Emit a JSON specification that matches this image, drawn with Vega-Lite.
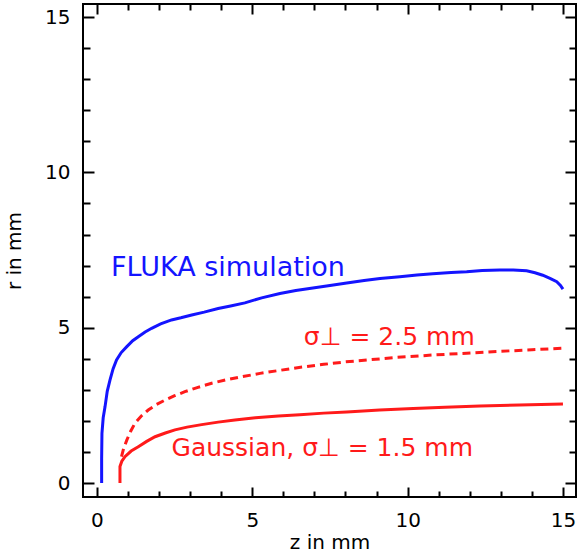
{
  "$schema": "https://vega.github.io/schema/vega-lite/v6.json",
  "width": 493,
  "height": 493,
  "autosize": {"type": "none"},
  "padding": {"left": 83, "top": 4, "right": 6, "bottom": 57},
  "background": "white",
  "config": {
    "font": "DejaVu Sans",
    "view": {"stroke": "black", "strokeWidth": 2},
    "axis": {
      "grid": false,
      "domain": false,
      "tickColor": "black",
      "tickWidth": 2,
      "labelFontSize": 20,
      "labelColor": "black",
      "titleFontSize": 20,
      "titleFontWeight": "normal",
      "titleColor": "black"
    }
  },
  "datasets": {
    "fluka": [
      {"z": 0.15, "r": 0.0}, {"z": 0.15, "r": 0.8}, {"z": 0.16, "r": 1.6}, {"z": 0.2, "r": 2.1},
      {"z": 0.26, "r": 2.46}, {"z": 0.33, "r": 2.95}, {"z": 0.42, "r": 3.32}, {"z": 0.52, "r": 3.68},
      {"z": 0.63, "r": 3.96}, {"z": 0.78, "r": 4.2}, {"z": 0.96, "r": 4.39}, {"z": 1.15, "r": 4.58},
      {"z": 1.33, "r": 4.71}, {"z": 1.55, "r": 4.86}, {"z": 1.76, "r": 4.98}, {"z": 2.05, "r": 5.12},
      {"z": 2.4, "r": 5.25}, {"z": 2.7, "r": 5.32}, {"z": 3.05, "r": 5.41}, {"z": 3.45, "r": 5.5},
      {"z": 3.9, "r": 5.62}, {"z": 4.3, "r": 5.7}, {"z": 4.76, "r": 5.8}, {"z": 5.3, "r": 5.96},
      {"z": 5.89, "r": 6.1}, {"z": 6.4, "r": 6.2}, {"z": 6.95, "r": 6.28}, {"z": 7.5, "r": 6.36},
      {"z": 8.04, "r": 6.44}, {"z": 8.6, "r": 6.52}, {"z": 9.11, "r": 6.58}, {"z": 9.75, "r": 6.64},
      {"z": 10.3, "r": 6.7}, {"z": 10.81, "r": 6.74}, {"z": 11.4, "r": 6.78}, {"z": 11.9, "r": 6.8},
      {"z": 12.4, "r": 6.84}, {"z": 12.97, "r": 6.86}, {"z": 13.4, "r": 6.86}, {"z": 13.83, "r": 6.83},
      {"z": 14.1, "r": 6.77}, {"z": 14.35, "r": 6.69}, {"z": 14.6, "r": 6.58}, {"z": 14.8, "r": 6.48},
      {"z": 14.92, "r": 6.36}, {"z": 15.0, "r": 6.24}
    ],
    "g25": [
      {"z": 0.79, "r": 0.85}, {"z": 0.86, "r": 1.12}, {"z": 0.96, "r": 1.38}, {"z": 1.08, "r": 1.66},
      {"z": 1.22, "r": 1.92}, {"z": 1.42, "r": 2.15}, {"z": 1.65, "r": 2.35}, {"z": 1.9, "r": 2.52},
      {"z": 2.19, "r": 2.67}, {"z": 2.5, "r": 2.81}, {"z": 2.83, "r": 2.94}, {"z": 3.25, "r": 3.08},
      {"z": 3.69, "r": 3.21}, {"z": 4.15, "r": 3.32}, {"z": 4.66, "r": 3.42}, {"z": 5.25, "r": 3.53},
      {"z": 5.84, "r": 3.62}, {"z": 6.5, "r": 3.72}, {"z": 7.3, "r": 3.82}, {"z": 8.0, "r": 3.9},
      {"z": 8.7, "r": 3.96}, {"z": 9.6, "r": 4.04}, {"z": 10.8, "r": 4.12}, {"z": 11.9, "r": 4.18},
      {"z": 13.0, "r": 4.24}, {"z": 14.0, "r": 4.29}, {"z": 15.0, "r": 4.34}
    ],
    "g15": [
      {"z": 0.74, "r": 0.0}, {"z": 0.74, "r": 0.53}, {"z": 0.8, "r": 0.7}, {"z": 0.9, "r": 0.85},
      {"z": 1.1, "r": 1.03}, {"z": 1.33, "r": 1.17}, {"z": 1.6, "r": 1.34}, {"z": 1.87, "r": 1.49},
      {"z": 2.2, "r": 1.61}, {"z": 2.51, "r": 1.71}, {"z": 2.9, "r": 1.8}, {"z": 3.37, "r": 1.88},
      {"z": 3.9, "r": 1.96}, {"z": 4.44, "r": 2.03}, {"z": 5.1, "r": 2.1}, {"z": 5.84, "r": 2.16},
      {"z": 6.53, "r": 2.2}, {"z": 7.3, "r": 2.25}, {"z": 8.04, "r": 2.29}, {"z": 9.1, "r": 2.35},
      {"z": 10.18, "r": 2.4}, {"z": 11.2, "r": 2.44}, {"z": 12.33, "r": 2.48}, {"z": 13.6, "r": 2.51},
      {"z": 15.0, "r": 2.54}
    ],
    "labels": [
      {"text": "FLUKA simulation", "z": 0.45, "r": 6.66, "series": "FLUKA"},
      {"text": "σ⊥ = 2.5 mm", "z": 6.66, "r": 4.44, "series": "Gaussian"},
      {"text": "Gaussian, σ⊥ = 1.5 mm", "z": 2.4, "r": 0.87, "series": "Gaussian"}
    ]
  },
  "resolve": {"axis": {"x": "independent", "y": "independent"}},
  "layer": [
    {
      "data": {"name": "fluka"},
      "mark": {"type": "line", "color": "#1414ff", "strokeWidth": 3},
      "encoding": {
        "x": {"field": "z", "type": "quantitative",
          "scale": {"domain": [-0.45, 15.42], "nice": false, "zero": false},
          "axis": {"orient": "bottom", "values": [0, 5, 10, 15], "tickSize": -10, "labelPadding": 23, "title": "z in mm", "titlePadding": 2}},
        "y": {"field": "r", "type": "quantitative",
          "scale": {"domain": [-0.45, 15.42], "nice": false, "zero": false},
          "axis": {"orient": "left", "values": [0, 5, 10, 15], "tickSize": -11, "labelPadding": 24, "title": "r in mm", "titlePadding": 20}},
        "order": {"field": "z", "type": "quantitative"}
      }
    },
    {
      "data": {"name": "g25"},
      "mark": {"type": "line", "color": "#ff1a1a", "strokeWidth": 3, "strokeDash": [8, 5]},
      "encoding": {
        "x": {"field": "z", "type": "quantitative",
          "axis": {"orient": "bottom", "values": [1, 2, 3, 4, 6, 7, 8, 9, 11, 12, 13, 14], "tickSize": -6, "labels": false, "title": null}},
        "y": {"field": "r", "type": "quantitative",
          "axis": {"orient": "left", "values": [1, 2, 3, 4, 6, 7, 8, 9, 11, 12, 13, 14], "tickSize": -7, "labels": false, "title": null}},
        "order": {"field": "z", "type": "quantitative"}
      }
    },
    {
      "data": {"name": "g15"},
      "mark": {"type": "line", "color": "#ff1a1a", "strokeWidth": 3},
      "encoding": {
        "x": {"field": "z", "type": "quantitative",
          "axis": {"orient": "top", "values": [0, 5, 10, 15], "tickSize": -10, "labels": false, "title": null}},
        "y": {"field": "r", "type": "quantitative",
          "axis": {"orient": "right", "values": [0, 5, 10, 15], "tickSize": -11, "labels": false, "title": null}},
        "order": {"field": "z", "type": "quantitative"}
      }
    },
    {
      "data": {"name": "labels"},
      "mark": {"type": "text", "align": "left", "baseline": "alphabetic"},
      "encoding": {
        "x": {"field": "z", "type": "quantitative",
          "axis": {"orient": "top", "values": [1, 2, 3, 4, 6, 7, 8, 9, 11, 12, 13, 14], "tickSize": -6, "labels": false, "title": null}},
        "y": {"field": "r", "type": "quantitative",
          "axis": {"orient": "right", "values": [1, 2, 3, 4, 6, 7, 8, 9, 11, 12, 13, 14], "tickSize": -7, "labels": false, "title": null}},
        "text": {"field": "text"},
        "size": {"field": "series", "type": "nominal", "scale": {"domain": ["FLUKA", "Gaussian"], "range": [27, 25]}, "legend": null},
        "color": {"field": "series", "type": "nominal", "scale": {"domain": ["FLUKA", "Gaussian"], "range": ["#1414ff", "#ff1a1a"]}, "legend": null}
      }
    }
  ]
}
